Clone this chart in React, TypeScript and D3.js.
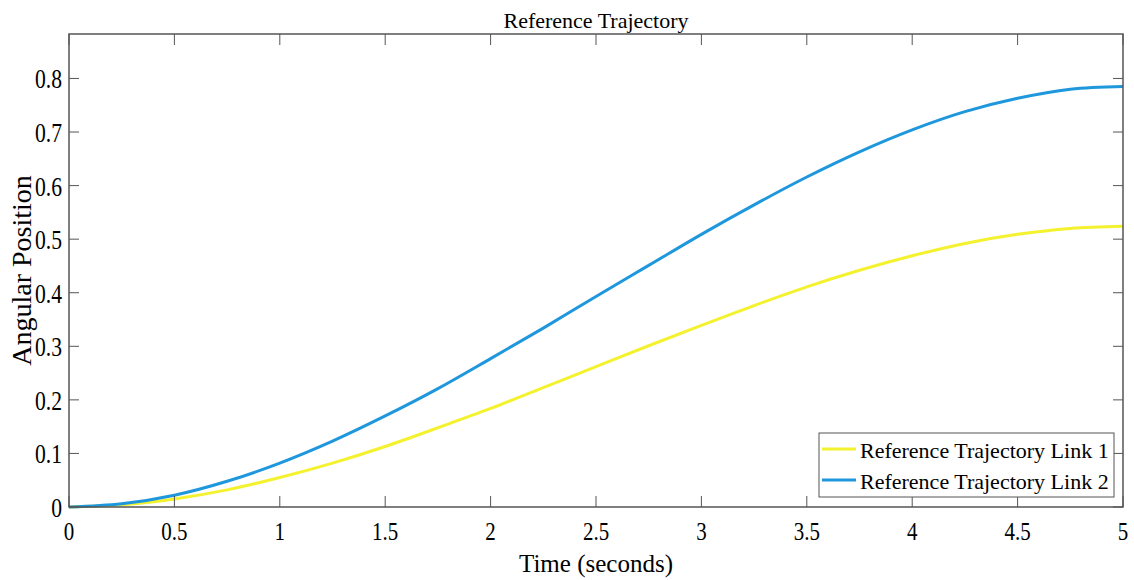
import React from 'react';
import * as d3 from 'd3';

// time samples (s) and angular positions
const times = [0, 0.25, 0.5, 0.75, 1, 1.25, 1.5, 1.75, 2, 2.25, 2.5, 2.75, 3, 3.25, 3.5, 3.75, 4, 4.25, 4.5, 4.75, 5];
const link1 = [0, 0.004, 0.015, 0.032, 0.055, 0.082, 0.113, 0.148, 0.184, 0.223, 0.262, 0.301, 0.339, 0.376, 0.411, 0.442, 0.469, 0.492, 0.509, 0.52, 0.524];
const link2 = [0, 0.006, 0.022, 0.048, 0.082, 0.123, 0.17, 0.221, 0.277, 0.334, 0.393, 0.451, 0.509, 0.564, 0.616, 0.663, 0.704, 0.738, 0.763, 0.78, 0.785];

const seriesNames = ['Reference Trajectory Link 1', 'Reference Trajectory Link 2'];
const seriesColors = ['#f4f22e', '#1f97dd'];
const xTicks = [0, 0.5, 1, 1.5, 2, 2.5, 3, 3.5, 4, 4.5, 5];
const yTicks = [0, 0.1, 0.2, 0.3, 0.4, 0.5, 0.6, 0.7, 0.8];

const W = 1134;
const H = 580;
const margin = { top: 34, right: 11, bottom: 73, left: 69 };
const font = "'Times New Roman', 'Liberation Serif', serif";
const axisColor = '#555';

const App = () => {
  const x = d3.scaleLinear().domain([0, 5]).range([margin.left, W - margin.right]);
  const y = d3.scaleLinear().domain([0, 0.883]).range([H - margin.bottom, margin.top]);

  const line = d3.line<number>()
    .x((d, i) => x(times[i]))
    .y(d => y(d))
    .curve(d3.curveCatmullRom);

  const x0 = x.range()[0], x1 = x.range()[1];
  const y0 = y.range()[0], y1 = y.range()[1];
  const tickLen = 11;

  const legX = 819, legY = 433, legW = 295, legH = 64;

  return (
    <svg width={W} height={H} style={{ position: 'absolute', left: 0, top: 0, background: '#fff' }} fontFamily={font}>
      <text x={(x0 + x1) / 2} y={28} textAnchor="middle" fontSize={22} fill="#000">Reference Trajectory</text>

      {[link1, link2].map((s, i) => (
        <path key={i} d={line(s) || ''} fill="none" stroke={seriesColors[i]} strokeWidth={3} />
      ))}

      {/* ticks on all four sides */}
      {xTicks.map(t => (
        <g key={'x' + t}>
          <line x1={x(t)} x2={x(t)} y1={y0} y2={y0 - tickLen} stroke={axisColor} />
          <line x1={x(t)} x2={x(t)} y1={y1} y2={y1 + tickLen} stroke={axisColor} />
          <text transform={`translate(${x(t)},${y0 + 33}) scale(0.84,1)`} textAnchor="middle" fontSize={25}>{t}</text>
        </g>
      ))}
      {yTicks.map(t => (
        <g key={'y' + t}>
          <line x1={x0} x2={x0 + 10} y1={y(t)} y2={y(t)} stroke={axisColor} />
          <line x1={x1} x2={x1 - 10} y1={y(t)} y2={y(t)} stroke={axisColor} />
          <text transform={`translate(${x0 - 7},${y(t) + 10}) scale(0.8,1)`} textAnchor="end" fontSize={27}>{t}</text>
        </g>
      ))}
      <rect x={x0} y={y1} width={x1 - x0} height={y0 - y1} fill="none" stroke={axisColor} strokeWidth={1.5} />

      <text x={(x0 + x1) / 2} y={572} textAnchor="middle" fontSize={25}>Time (seconds)</text>
      <text transform={`translate(31,${(y0 + y1) / 2}) rotate(-90)`} textAnchor="middle" fontSize={28}>Angular Position</text>

      <g>
        <rect x={legX} y={legY} width={legW} height={legH} fill="#fff" stroke={axisColor} strokeWidth={1} />
        {seriesNames.map((n, i) => (
          <g key={n}>
            <line x1={legX + 3} x2={legX + 37} y1={legY + 16 + i * 31} y2={legY + 16 + i * 31} stroke={seriesColors[i]} strokeWidth={3} />
            <text x={legX + 41} y={legY + 25 + i * 31} fontSize={22}>{n}</text>
          </g>
        ))}
      </g>
    </svg>
  );
};

export default App;
